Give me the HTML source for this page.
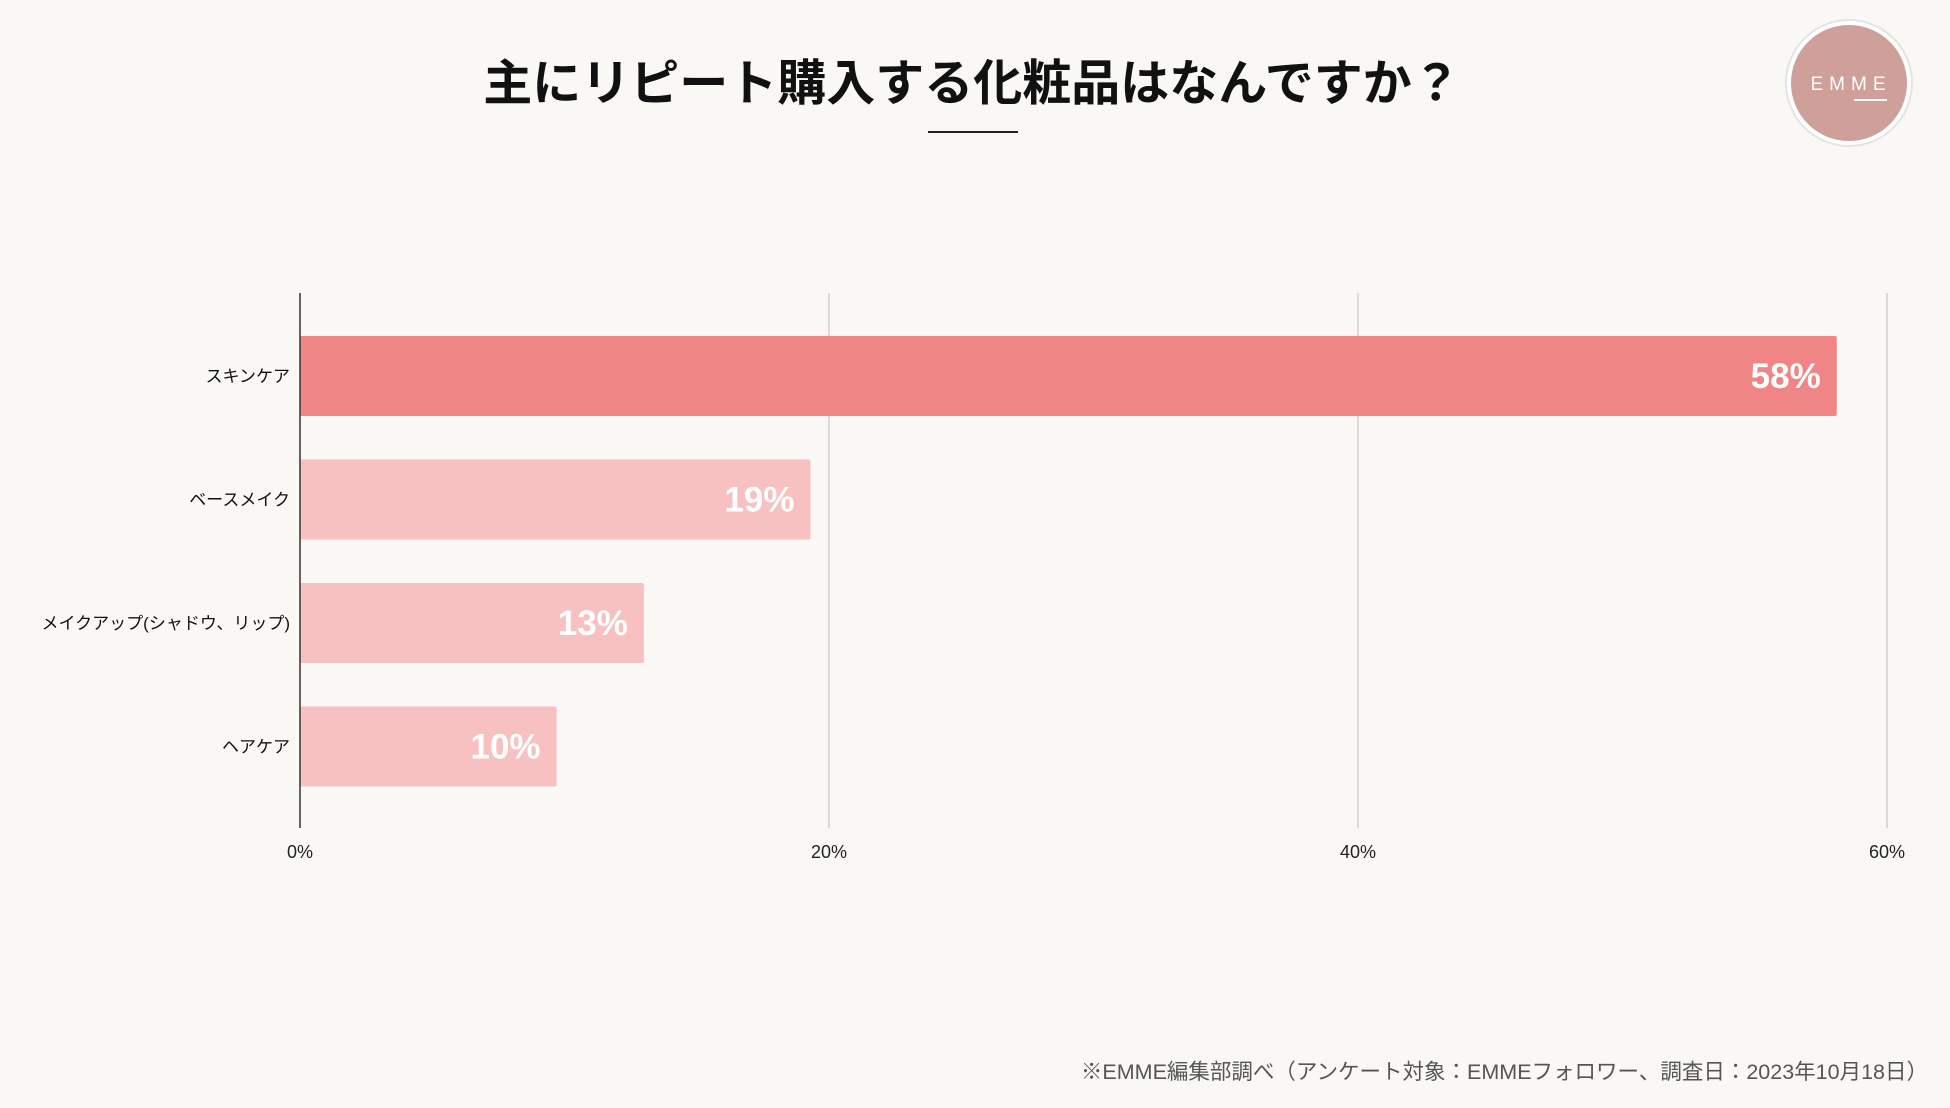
<!DOCTYPE html>
<html><head><meta charset="utf-8">
<style>
body{margin:0;background:#f9f8f4;width:1950px;height:1103px;overflow:hidden;font-family:"Liberation Sans","Noto Sans CJK JP",sans-serif;}
</style></head>
<body>
<svg width="1950" height="1103" xmlns="http://www.w3.org/2000/svg">
<rect width="1950" height="1103" fill="#f9f8f4"/>
<text x="972" y="100" text-anchor="middle" font-size="49" font-weight="bold" fill="#111" font-family="Liberation Sans, Noto Sans CJK JP, sans-serif">主にリピート購入する化粧品はなんですか？</text>
<rect x="928" y="131" width="90" height="2" fill="#222"/>
<g>
<circle cx="1849" cy="83" r="63" fill="#fff" stroke="#e4e4e4" stroke-width="2"/>
<circle cx="1849" cy="83" r="58" fill="#cf9f9a"/>
<text x="1851" y="90" text-anchor="middle" font-size="19" fill="#fff" letter-spacing="6" font-family="Liberation Sans, sans-serif">EMME</text>
<rect x="1854" y="99" width="33" height="2" fill="#fff"/>
</g>
<g id="grid"></g>
<g id="bars"></g>
<line x1="300" y1="293" x2="300" y2="828" stroke="#333" stroke-width="1.5"/>
<text x="1928" y="1079" text-anchor="end" font-size="21.5" fill="#555" font-family="Liberation Sans, Noto Sans CJK JP, sans-serif">※EMME編集部調べ（アンケート対象：EMMEフォロワー、調査日：2023年10月18日）</text>
</svg>
<script>
const categories=["スキンケア","ベースメイク","メイクアップ(シャドウ、リップ)","ヘアケア"];
const values=[58.1,19.3,13.0,9.7];
const valueLabels=["58%","19%","13%","10%"];
const tickValues=[0,20,40,60];
const tickLabels=["0%","20%","40%","60%"];
const NS="http://www.w3.org/2000/svg";
const x=v=>300+v*(1887-300)/60;
const y=i=>336+i*123.5;
const bh=80;
const grid=document.getElementById('grid'),bars=document.getElementById('bars');
function mk(t,a,p){const e=document.createElementNS(NS,t);for(const k in a)e.setAttribute(k,a[k]);p.appendChild(e);return e;}
tickValues.forEach((t,i)=>{
 if(t>0){const l=mk('line',{x1:x(t),x2:x(t),y1:293,y2:828,stroke:'#cfcfcf','stroke-width':1.5},grid);
 
 }
 const tx=mk('text',{x:x(t),y:858,'text-anchor':'middle','font-size':18,fill:'#222'},grid);
 tx.textContent=tickLabels[i];
 
 
});
categories.forEach((c,i)=>{
 const r=mk('rect',{x:300,y:y(i),width:x(values[i])-300,height:bh,rx:2,fill:i===0?'#f08585':'#f7c0c1'},bars);
 
 
 const v=mk('text',{x:x(values[i])-16,y:y(i)+bh/2+12,'text-anchor':'end','font-size':35,'font-weight':'bold',fill:'#fff'},bars);
 v.textContent=valueLabels[i];
 
 
 const l=mk('text',{x:290,y:y(i)+bh/2+6,'text-anchor':'end','font-size':17,fill:'#111'},bars);
 l.textContent=c;
 
 
});
</script>
</body></html>
